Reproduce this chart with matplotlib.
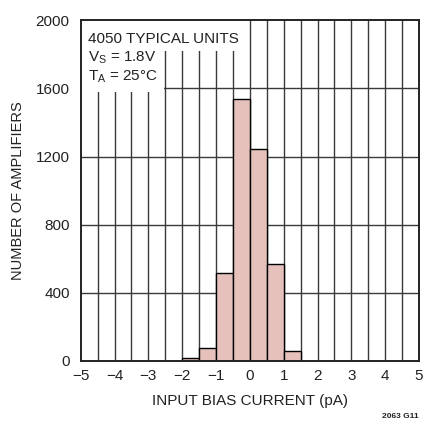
import matplotlib
matplotlib.use("Agg")
import matplotlib.pyplot as plt
from matplotlib.patches import Rectangle
from matplotlib import font_manager

# ---- data ----
bin_left = [-2.0, -1.5, -1.0, -0.5, 0.0, 0.5, 1.0]
counts = [18, 78, 515, 1540, 1245, 568, 57]
bin_width = 0.5
x_ticks = [-5, -4, -3, -2, -1, 0, 1, 2, 3, 4, 5]
y_ticks = [0, 400, 800, 1200, 1600, 2000]

names = {f.name for f in font_manager.fontManager.ttflist}
fam = "Liberation Sans Narrow" if "Liberation Sans Narrow" in names else "Liberation Sans"
plt.rcParams["font.family"] = [fam, "DejaVu Sans"]
plt.rcParams["mathtext.fontset"] = "custom"
plt.rcParams["mathtext.rm"] = fam
plt.rcParams["axes.unicode_minus"] = True

fig = plt.figure(figsize=(4.25, 4.25), dpi=100)
ax = fig.add_axes([0.19, 0.151, 0.796, 0.801])

ax.set_xlim(-5, 5)
ax.set_ylim(0, 2000)

# grid: vertical every 0.5, horizontal every 400
for xv in [i * 0.5 for i in range(-9, 10)]:
    ax.axvline(xv, color="#3a3a3a", lw=1.0, zorder=0.5)
for yv in y_ticks[1:-1]:
    ax.axhline(yv, color="#3a3a3a", lw=1.0, zorder=0.5)

# white blocks behind annotation text
ax.add_patch(Rectangle((-5, 1822), 4.75, 200, facecolor="white", edgecolor="none", zorder=1))
ax.add_patch(Rectangle((-5, 1580), 2.45, 260, facecolor="white", edgecolor="none", zorder=1))

ax.bar(bin_left, counts, width=bin_width, align="edge", color="#e6c1bc",
       edgecolor="black", linewidth=1.0, zorder=2)

ax.set_xticks(x_ticks)
ax.set_xticklabels([("\u2212%d" % -v) if v < 0 else str(v) for v in x_ticks])
ax.set_yticks(y_ticks)
ax.tick_params(axis="both", length=0, labelsize=11, colors="#222222")
ax.tick_params(axis="y", pad=8)
ax.tick_params(axis="x", pad=6)

for s in ax.spines.values():
    s.set_linewidth(1.4)
    s.set_color("#222222")

ax.set_xlabel("INPUT BIAS CURRENT (pA)", fontsize=11, color="#222222", labelpad=8)
ax.set_ylabel("NUMBER OF AMPLIFIERS", fontsize=10.5, color="#222222", labelpad=8)

tkw = dict(transform=ax.transData, color="#222222", zorder=3, ha="left", va="baseline")
ax.text(-4.78, 1866, "4050 TYPICAL UNITS", fontsize=11, **tkw)
ax.text(-4.78, 1758, r"V$_\mathregular{S}$ = 1.8V", fontsize=11, **tkw)
ax.text(-4.78, 1648, "T$_\\mathregular{A}$ = 25\u00b0C", fontsize=11, **tkw)

fig.text(0.984, 0.012, "2063 G11", fontsize=6, ha="right", va="bottom", color="#222222",
         fontweight="bold")

fig.savefig("out.png", dpi=100)
